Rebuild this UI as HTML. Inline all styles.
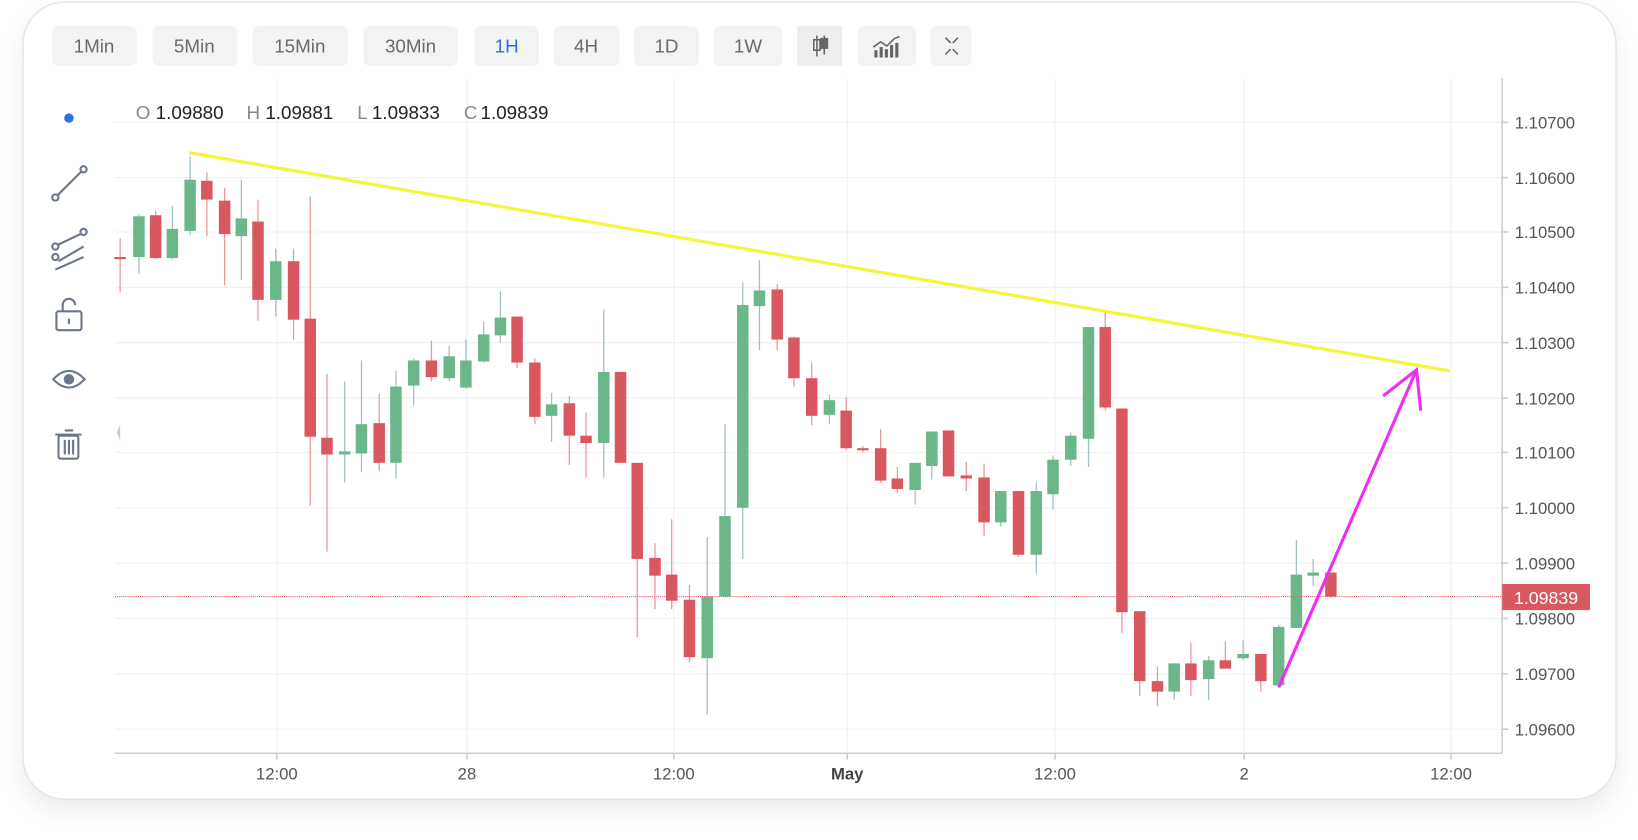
<!DOCTYPE html>
<html><head><meta charset="utf-8"><style>
html,body{margin:0;padding:0;background:#fff;width:1638px;height:840px;overflow:hidden}
svg{display:block}
text{font-family:"Liberation Sans",sans-serif}
</style></head><body>
<svg id="s" width="1638" height="840" viewBox="0 0 1568 804" xmlns="http://www.w3.org/2000/svg">
<defs>
<filter id="sh" x="-5%" y="-5%" width="110%" height="115%"><feDropShadow dx="0" dy="10" stdDeviation="10" flood-color="#000" flood-opacity="0.08"/></filter>
</defs>
<rect x="22" y="2" width="1525" height="763" rx="40" fill="#fff" stroke="#e6e6e6" stroke-width="1.5" filter="url(#sh)"/>
<g fill="#f3f3f3">
<rect x="50" y="25" width="81" height="38" rx="6"/>
<rect x="146" y="25" width="81" height="38" rx="6"/>
<rect x="242" y="25" width="91" height="38" rx="6"/>
<rect x="348" y="25" width="90" height="38" rx="6"/>
<rect x="454" y="25" width="62" height="38" rx="6"/>
<rect x="530" y="25" width="63" height="38" rx="6"/>
<rect x="607" y="25" width="62" height="38" rx="6"/>
<rect x="683" y="25" width="66" height="38" rx="6"/>
<rect x="763" y="25" width="43" height="38" fill="#eeeeee"/>
<rect x="821" y="25" width="56" height="38" rx="6"/>
<rect x="891" y="25" width="39" height="38" rx="6"/>
</g>
<g font-size="18" fill="#6a6a6a" text-anchor="middle">
<text x="90" y="50">1Min</text><text x="186" y="50">5Min</text><text x="287" y="50">15Min</text><text x="393" y="50">30Min</text>
<text x="485" y="50" fill="#2f6fe0">1H</text><text x="561" y="50">4H</text><text x="638" y="50">1D</text><text x="716" y="50">1W</text>
</g>
<g stroke="#666" stroke-width="1.5" fill="none">
<line x1="782" y1="34" x2="782" y2="54"/><rect x="779" y="38" width="6" height="10"/>
<line x1="789" y1="34" x2="789" y2="52"/><rect x="786" y="37" width="6" height="9" fill="#666"/>
<polyline points="836,45 843,40 849,44 856,37 861,35"/>
<line x1="905" y1="36" x2="910" y2="41"/><line x1="917" y1="36" x2="912" y2="41"/><line x1="905" y1="52" x2="910" y2="47"/><line x1="917" y1="52" x2="912" y2="47"/>
</g>
<g fill="#666"><rect x="837" y="48" width="3" height="7"/><rect x="842" y="45" width="3" height="10"/><rect x="847" y="47" width="3" height="8"/><rect x="852" y="43" width="3" height="12"/><rect x="857" y="41" width="3" height="14"/></g>
<g stroke="#efefef" stroke-width="1">
<line x1="110" y1="117" x2="1438" y2="117"/><line x1="110" y1="170" x2="1438" y2="170"/><line x1="110" y1="222" x2="1438" y2="222"/><line x1="110" y1="275" x2="1438" y2="275"/><line x1="110" y1="328" x2="1438" y2="328"/><line x1="110" y1="381" x2="1438" y2="381"/><line x1="110" y1="433" x2="1438" y2="433"/><line x1="110" y1="486" x2="1438" y2="486"/><line x1="110" y1="539" x2="1438" y2="539"/><line x1="110" y1="592" x2="1438" y2="592"/><line x1="110" y1="645" x2="1438" y2="645"/><line x1="110" y1="698" x2="1438" y2="698"/>
<line x1="265" y1="75" x2="265" y2="721"/><line x1="447" y1="75" x2="447" y2="721"/><line x1="645" y1="75" x2="645" y2="721"/><line x1="811" y1="75" x2="811" y2="721"/><line x1="1010" y1="75" x2="1010" y2="721"/><line x1="1191" y1="75" x2="1191" y2="721"/><line x1="1389" y1="75" x2="1389" y2="721"/>
</g>
<g stroke="#ccc" stroke-width="1.5"><line x1="110" y1="721" x2="1438" y2="721"/><line x1="1438" y1="75" x2="1438" y2="721"/>
<line x1="265" y1="721" x2="265" y2="727"/><line x1="447" y1="721" x2="447" y2="727"/><line x1="645" y1="721" x2="645" y2="727"/><line x1="811" y1="721" x2="811" y2="727"/><line x1="1010" y1="721" x2="1010" y2="727"/><line x1="1191" y1="721" x2="1191" y2="727"/><line x1="1389" y1="721" x2="1389" y2="727"/>
<line x1="1438" y1="117" x2="1444" y2="117"/><line x1="1438" y1="170" x2="1444" y2="170"/><line x1="1438" y1="222" x2="1444" y2="222"/><line x1="1438" y1="275" x2="1444" y2="275"/><line x1="1438" y1="328" x2="1444" y2="328"/><line x1="1438" y1="381" x2="1444" y2="381"/><line x1="1438" y1="433" x2="1444" y2="433"/><line x1="1438" y1="486" x2="1444" y2="486"/><line x1="1438" y1="539" x2="1444" y2="539"/><line x1="1438" y1="592" x2="1444" y2="592"/><line x1="1438" y1="645" x2="1444" y2="645"/><line x1="1438" y1="698" x2="1444" y2="698"/>
</g>
<g font-size="16" fill="#555">
<text x="1450" y="123">1.10700</text><text x="1450" y="176">1.10600</text><text x="1450" y="228">1.10500</text><text x="1450" y="281">1.10400</text><text x="1450" y="334">1.10300</text><text x="1450" y="387">1.10200</text><text x="1450" y="439">1.10100</text><text x="1450" y="492">1.10000</text><text x="1450" y="545">1.09900</text><text x="1450" y="598">1.09800</text><text x="1450" y="651">1.09700</text><text x="1450" y="704">1.09600</text>
</g>
<g font-size="16" fill="#555" text-anchor="middle">
<text x="265" y="746">12:00</text><text x="447" y="746">28</text><text x="645" y="746">12:00</text><text x="811" y="746" font-weight="bold" fill="#444">May</text><text x="1010" y="746">12:00</text><text x="1191" y="746">2</text><text x="1389" y="746">12:00</text>
</g>
<g id="candles"></g>
<line x1="110" y1="571" x2="1438" y2="571" stroke="#e06068" stroke-width="1" stroke-dasharray="1,1"/>
<rect x="1438" y="559" width="84" height="25" fill="#d9585f"/>
<text x="1480" y="578" font-size="17" fill="#fff" text-anchor="middle">1.09839</text>
<line x1="181" y1="146" x2="1388" y2="355" stroke="#f5f53a" stroke-width="3"/>
<g stroke="#ec30f0" stroke-width="3" fill="none"><line x1="1224" y1="658" x2="1356" y2="354"/><polyline points="1324,379 1356,354 1360,393"/></g>
<circle cx="66" cy="113" r="4.5" fill="#2f6fe0"/>
<g font-size="18" fill="#222">
<text x="130" y="114" fill="#888">O</text><text x="149" y="114">1.09880</text>
<text x="236" y="114" fill="#888">H</text><text x="254" y="114">1.09881</text>
<text x="342" y="114" fill="#888">L</text><text x="356" y="114">1.09833</text>
<text x="444" y="114" fill="#888">C</text><text x="460" y="114">1.09839</text>
</g>
<g stroke="#6b7788" stroke-width="2" fill="none">
<circle cx="53" cy="189" r="3"/><circle cx="80" cy="162" r="3"/><line x1="55" y1="187" x2="78" y2="164"/>
<circle cx="53" cy="236" r="3"/><circle cx="53" cy="246" r="3"/><circle cx="80" cy="222" r="3"/><line x1="56" y1="234" x2="77" y2="224"/><line x1="56" y1="250" x2="80" y2="236"/><line x1="53" y1="258" x2="80" y2="246"/>
<rect x="54" y="298" width="24" height="18" rx="2"/><path d="M60 298 v-6 a6 6 0 0 1 12 0"/><line x1="66" y1="305" x2="66" y2="310"/>
<path d="M51 363 q15 -16 30 0 q-15 16 -30 0z"/>
<rect x="56" y="417" width="19" height="22" rx="2"/><line x1="53" y1="416" x2="78" y2="416"/><line x1="62" y1="412" x2="70" y2="412"/><line x1="62" y1="421" x2="62" y2="435"/><line x1="66" y1="421" x2="66" y2="435"/><line x1="70" y1="421" x2="70" y2="435"/>
</g>
<circle cx="66" cy="363" r="5" fill="#6b7788"/>
<path d="M115 406 l-3 8 l3 8z" fill="#ccc"/>
</svg>
<script>
var c=[[115,'r',246,248,228,280],[133,'g',207,246,205,262],[149,'r',206,247,202,248],[165,'g',219,247,197,248],[182,'g',172,221,150,225],[198,'r',173,191,165,226],[215,'r',192,224,180,273],[231,'g',209,226,172,268],[247,'r',212,287,191,307],[264,'g',250,287,238,303],[281,'r',250,306,238,325],[297,'r',305,418,188,484],[313,'r',419,435,358,528],[330,'g',432,435,365,462],[346,'g',406,434,345,452],[363,'r',405,443,377,451],[379,'g',370,443,355,458],[396,'g',345,369,343,388],[413,'r',345,361,326,365],[430,'g',341,362,331,365],[446,'g',345,371,325,372],[463,'g',320,346,308,347],[479,'g',304,321,279,328],[495,'r',303,347,303,352],[512,'r',347,399,343,406],[528,'g',387,398,376,423],[545,'r',386,417,379,445],[561,'r',417,424,395,457],[578,'g',356,424,296,457],[594,'r',356,443,356,443],[610,'r',443,535,443,610],[627,'r',534,551,520,583],[643,'r',550,575,497,583],[660,'r',574,629,560,634],[677,'g',571,630,514,684],[694,'g',494,571,406,572],[711,'g',292,486,270,535],[727,'g',278,293,249,335],[744,'r',277,325,272,335],[760,'r',323,362,322,370],[777,'r',362,398,347,407],[794,'g',383,397,378,406],[810,'r',393,429,380,431],[826,'r',429,431,427,433],[843,'r',429,460,411,462],[859,'r',458,468,447,472],[876,'g',443,469,443,483],[892,'g',413,446,413,459],[908,'r',412,456,412,456],[925,'r',455,458,442,470],[942,'r',457,500,444,513],[958,'g',470,500,470,504],[975,'r',470,531,470,533],[992,'g',470,531,462,549],[1008,'g',440,473,436,488],[1025,'g',417,440,414,446],[1042,'g',313,420,313,447],[1058,'r',313,390,298,393],[1074,'r',391,586,391,606],[1091,'r',585,652,585,666],[1108,'r',652,662,638,676],[1124,'g',635,662,635,670],[1140,'r',635,651,615,666],[1157,'g',632,650,628,670],[1173,'r',632,640,614,640],[1190,'g',626,630,613,632],[1207,'r',626,652,626,662],[1224,'g',600,656,598,656],[1241,'g',550,601,517,601],[1257,'g',548,551,535,561],[1274,'r',548,571,548,572]];
var g=document.getElementById('candles'),h='';
c.forEach(function(d){var body=d[1]=='g'?'#6bb78a':'#d9585f',wick=d[1]=='g'?'#9dbfc6':'#e8959b';
h+='<line x1="'+d[0]+'" y1="'+d[4]+'" x2="'+d[0]+'" y2="'+d[5]+'" stroke="'+wick+'" stroke-width="1.2"/>';
h+='<rect x="'+(d[0]-5.5)+'" y="'+d[2]+'" width="11" height="'+Math.max(2,d[3]-d[2])+'" fill="'+body+'"/>';});
g.innerHTML=h;
</script>
</body></html>
